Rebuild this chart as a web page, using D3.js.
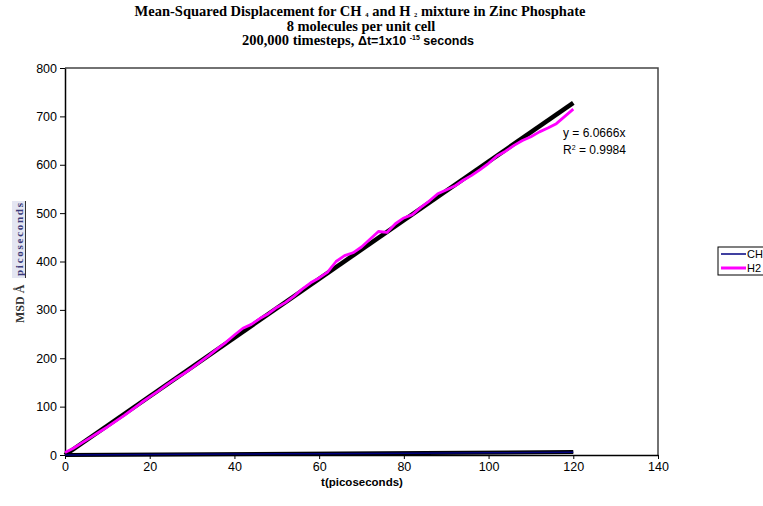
<!DOCTYPE html>
<html>
<head>
<meta charset="utf-8">
<script src="https://cdn.jsdelivr.net/npm/d3@7"></script>
<style>
  body { margin: 0; background: #fff; }
  svg { display: block; }
  .tick text { font-family: Arial, "Liberation Sans", sans-serif; font-size: 12.5px; fill: #000; }
  .tick line, .domain { stroke: #000; }
</style>
</head>
<body>
<svg id="chart" width="763" height="506"></svg>
<script>
// data
const h2Time = [0, 2, 4, 6, 8, 10, 12, 14, 16, 18, 20, 22, 24, 26, 28, 30, 32, 34, 36, 38, 40,
                42, 44, 46, 48, 50, 52, 54, 56, 58, 60, 62, 64, 66, 68, 70, 72, 74, 76, 78, 80,
                82, 84, 86, 88, 90, 92, 94, 96, 98, 100, 102, 104, 106, 108, 110, 112, 114, 116, 118, 120];
const h2Msd = [5, 14, 25, 36, 47, 58, 70, 82, 95, 108, 120, 132, 145, 157, 168, 180, 193, 206, 220, 233, 248,
               262, 270, 282, 292, 305, 315, 328, 343, 356, 366, 378, 400, 412, 418, 430, 446, 462, 460, 478, 490,
               497, 512, 525, 540, 548, 556, 568, 578, 590, 603, 618, 628, 640, 650, 658, 668, 676, 685, 700, 715];
const ch4Time = [0, 10, 20, 30, 40, 50, 60, 70, 80, 90, 100, 110, 120];
const ch4Msd = [0, 0.5, 1, 1.4, 1.9, 2.4, 2.8, 3.3, 3.7, 4.2, 4.6, 5.1, 5.5];
const h2Slope = 6.0666;
const ch4Slope = 0.05;
const xTicks = [0, 20, 40, 60, 80, 100, 120, 140];
const yTicks = [0, 100, 200, 300, 400, 500, 600, 700, 800];
const seriesNames = ["CH", "H2"];

const svg = d3.select('#chart');
const pLeft = 65, pRight = 658, pTop = 68, pBottom = 455;

const x = d3.scaleLinear().domain([0, 140]).range([pLeft, pRight]);
const y = d3.scaleLinear().domain([0, 800]).range([pBottom, pTop]);

// plot area frame (top and right)
svg.append('path')
    .attr('d', `M${pLeft},${pTop}H${pRight}V${pBottom}`)
    .attr('fill', 'none')
    .attr('stroke', '#444')
    .attr('stroke-width', 1.5);

svg.append('g')
    .attr('transform', `translate(0,${pBottom})`)
    .call(d3.axisBottom(x).tickValues(xTicks).tickSize(4).tickSizeOuter(0).tickPadding(3));
svg.append('g')
    .attr('transform', `translate(${pLeft},0)`)
    .call(d3.axisLeft(y).tickValues(yTicks).tickSize(5).tickSizeOuter(0).tickPadding(3));
svg.selectAll('.domain').attr('stroke-width', 1.5);

const line = d3.line().x(d => x(d[0])).y(d => y(d[1]));

// trend lines
svg.append('path')
    .datum([[0, 0], [120, ch4Slope * 120]])
    .attr('d', line).attr('fill', 'none').attr('stroke', '#000').attr('stroke-width', 4);
svg.append('path')
    .datum([[0, 0], [120, h2Slope * 120]])
    .attr('d', line).attr('fill', 'none').attr('stroke', '#000').attr('stroke-width', 4.5);

// series
svg.append('path')
    .datum(ch4Time.map((t, i) => [t, ch4Msd[i]]))
    .attr('d', line).attr('fill', 'none').attr('stroke', '#000080').attr('stroke-width', 1.5);
svg.append('path')
    .datum(h2Time.map((t, i) => [t, h2Msd[i]]))
    .attr('d', line).attr('fill', 'none').attr('stroke', '#ff00ff').attr('stroke-width', 2.8)
    .attr('stroke-linejoin', 'round');

// trendline equation
const eq = svg.append('g')
    .attr('font-family', 'Arial, "Liberation Sans", sans-serif')
    .attr('font-size', 12);
eq.append('text').attr('x', 563).attr('y', 137).text('y = 6.0666x');
const r2 = eq.append('text').attr('x', 563).attr('y', 154);
r2.append('tspan').text('R');
r2.append('tspan').attr('font-size', 7).attr('dy', -4).text('2');
r2.append('tspan').attr('dy', 4).text(' = 0.9984');

// title
const title = svg.append('g')
    .attr('font-family', '"Liberation Serif", "Times New Roman", serif')
    .attr('font-weight', 'bold')
    .attr('font-size', 14.5)
    .attr('text-anchor', 'middle');
const t1 = title.append('text').attr('x', 360).attr('y', 16);
t1.append('tspan').text('Mean-Squared Displacement for CH ');
t1.append('tspan').attr('font-size', 6.5).attr('dy', 1).text('4');
t1.append('tspan').attr('dy', -1).text(' and H ');
t1.append('tspan').attr('font-size', 6.5).attr('dy', 1).text('2');
t1.append('tspan').attr('dy', -1).text(' mixture in Zinc Phosphate');
title.append('text').attr('x', 361).attr('y', 31).text('8 molecules per unit cell');
const t3 = title.append('text').attr('x', 358).attr('y', 45);
t3.append('tspan').text('200,000 timesteps, ');
t3.append('tspan').attr('font-family', 'Arial, "Liberation Sans", sans-serif').attr('font-size', 12.5).text('\u0394t=1x10 ');
t3.append('tspan').attr('font-family', 'Arial, "Liberation Sans", sans-serif').attr('font-size', 7).attr('dy', -5).text('-15');
t3.append('tspan').attr('font-family', 'Arial, "Liberation Sans", sans-serif').attr('font-size', 12.5).attr('dy', 5).text('  seconds');

// x axis title
svg.append('text')
    .attr('x', 362).attr('y', 486)
    .attr('text-anchor', 'middle')
    .attr('font-family', 'Arial, "Liberation Sans", sans-serif')
    .attr('font-weight', 'bold')
    .attr('font-size', 11.5)
    .text('t(picoseconds)');

// y axis title (pasted equation object)
const yl = svg.append('g').attr('transform', 'translate(22,323) rotate(-90)');
yl.append('rect').attr('x', 45).attr('y', -10).attr('width', 77).attr('height', 13)
    .attr('fill', '#e4e6f2');
yl.append('line').attr('x1', 45).attr('x2', 122).attr('y1', 3.5).attr('y2', 3.5)
    .attr('stroke', '#333').attr('stroke-width', 1);
yl.append('text').attr('x', 0).attr('y', 2)
    .attr('font-family', '"Liberation Serif", "Times New Roman", serif')
    .attr('font-weight', 'bold').attr('font-size', 12)
    .attr('fill', '#333')
    .text('MSD \u00c5');
yl.append('text').attr('x', 47).attr('y', 1)
    .attr('font-family', '"Liberation Serif", "Times New Roman", serif')
    .attr('font-weight', 'bold').attr('font-size', 11)
    .attr('fill', '#3a3a7a')
    .attr('textLength', 73)
    .text('picoseconds');

// legend (box runs off the right edge, as in the original)
const lg = svg.append('g');
lg.append('rect').attr('x', 718).attr('y', 247).attr('width', 60).attr('height', 28)
    .attr('fill', '#fff').attr('stroke', '#000').attr('stroke-width', 1);
const legendColors = ['#000080', '#ff00ff'];
const legendWidths = [1.5, 3];
seriesNames.forEach(function(name, i) {
    let ly = 254 + i * 14;
    lg.append('line').attr('x1', 721).attr('x2', 746).attr('y1', ly).attr('y2', ly)
        .attr('stroke', legendColors[i]).attr('stroke-width', legendWidths[i]);
    lg.append('text').attr('x', 747).attr('y', ly + 4)
        .attr('font-family', 'Arial, "Liberation Sans", sans-serif')
        .attr('font-size', 11)
        .text(name);
});
</script>
</body>
</html>
